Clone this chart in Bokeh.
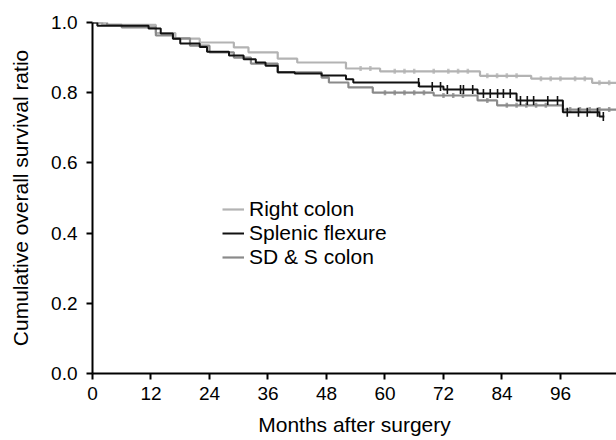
import math
from bokeh.plotting import figure
from bokeh.models import Range1d, FixedTicker, PrintfTickFormatter, Legend, LegendItem
from bokeh.embed import file_html
from bokeh.resources import INLINE

# ---- data (step points: time in months, survival after the step) ----
right_t = [0, 2, 13, 17, 22, 29, 32, 38, 42, 52, 59, 79.5, 90, 102.5, 107.5]
right_s = [1.0, 0.993, 0.97, 0.954, 0.943, 0.929, 0.915, 0.897, 0.886, 0.869, 0.861, 0.848, 0.84, 0.828, 0.828]

splenic_t = [0, 1, 11.5, 14, 16.5, 18, 22, 23.5, 28, 31, 33.5, 35.5, 38, 41.5, 47, 52, 53.5, 67, 72, 79, 87, 96.5, 104, 105]
splenic_s = [1.0, 0.991, 0.983, 0.969, 0.954, 0.94, 0.93, 0.917, 0.906, 0.895, 0.886, 0.877, 0.858, 0.855, 0.849, 0.838, 0.829, 0.818, 0.809, 0.798, 0.778, 0.744, 0.732, 0.732]

sds_t = [0, 3, 6, 13, 16.5, 20, 24, 29, 32.5, 38, 47, 48.5, 52.5, 57.5, 70, 79, 83, 96.5, 107.5]
sds_s = [1.0, 0.993, 0.986, 0.963, 0.955, 0.934, 0.915, 0.9, 0.883, 0.858, 0.843, 0.829, 0.815, 0.8, 0.792, 0.778, 0.764, 0.752, 0.752]

splenic_cens = [66.9, 69.7, 71.4, 72.8, 75.5, 76.1, 78, 80.2, 81.6, 83.1, 84.3, 85.7, 87.8, 89.2, 90.5, 93.4, 95.4, 97.4, 99.7, 101.5, 103.6, 104.8]
right_cens = [55, 57, 62, 64, 66, 70, 73, 75, 77, 81, 83, 85, 87, 92, 94, 96, 99, 101, 104, 106]
sds_cens = [60, 62, 64, 66, 68, 72, 74, 76, 81, 85, 87, 89, 91, 93, 98, 100, 102, 104, 106]

x_ticks = [0, 12, 24, 36, 48, 60, 72, 84, 96]
y_ticks = [0.0, 0.2, 0.4, 0.6, 0.8, 1.0]

series_names = ["Right colon", "Splenic flexure", "SD & S colon"]
colors = ["#b3b3b3", "#111111", "#8a8a8a"]


def surv_at(ts, ss, t):
    v = ss[0]
    for ti, si in zip(ts, ss):
        if ti <= t:
            v = si
    return v


FONT = "Liberation Sans"

p = figure(width=616, height=440, output_backend="svg", toolbar_location=None,
           x_range=Range1d(0, 107.5), y_range=Range1d(0, 1.0),
           min_border_left=92, min_border_right=0, min_border_top=22, min_border_bottom=67)
p.outline_line_color = None
p.xgrid.visible = False
p.ygrid.visible = False
p.background_fill_color = "white"
p.border_fill_color = "white"

for ax in (p.xaxis[0], p.yaxis[0]):
    ax.axis_line_width = 2
    ax.axis_line_color = "black"
    ax.major_tick_line_width = 2
    ax.major_tick_line_color = "black"
    ax.major_tick_out = 6
    ax.major_tick_in = 0
    ax.minor_tick_line_color = None
    ax.major_label_text_font = FONT
    ax.major_label_text_font_size = "19px"
    ax.major_label_text_color = "black"
    ax.axis_label_text_font = FONT
    ax.axis_label_text_font_size = "21px"
    ax.axis_label_text_font_style = "normal"
    ax.axis_label_text_color = "black"

p.xaxis.ticker = FixedTicker(ticks=x_ticks)
p.yaxis.ticker = FixedTicker(ticks=y_ticks)
p.yaxis.formatter = PrintfTickFormatter(format="%.1f")
p.xaxis.axis_label = "Months after surgery"
p.yaxis.axis_label = "Cumulative overall survival ratio"
p.xaxis.major_label_standoff = 7
p.yaxis.major_label_standoff = 9
p.xaxis.axis_label_standoff = 10
p.yaxis.axis_label_standoff = 16

all_t = [right_t, splenic_t, sds_t]
all_s = [right_s, splenic_s, sds_s]
all_c = [right_cens, splenic_cens, sds_cens]
widths = [2.2, 2.0, 2.2]
items = []
order = [0, 2, 1]
renderers = {}
for i in order:
    r = p.step(all_t[i], all_s[i], mode="after", line_color=colors[i], line_width=widths[i])
    renderers[i] = r
    cy = [surv_at(all_t[i], all_s[i], c) for c in all_c[i]]
    if i == 1:
        p.scatter(all_c[i], cy, marker="dash", angle=math.pi / 2, size=9,
                  line_color=colors[i], line_width=1.6)
    else:
        p.scatter(all_c[i], cy, marker="dash", angle=math.pi / 2, size=5,
                  line_color=colors[i], line_width=2.5, line_alpha=0.8)

for i in range(3):
    items.append(LegendItem(label=series_names[i], renderers=[renderers[i]]))

legend = Legend(items=items, location=(130, 104), orientation="vertical",
                padding=0, margin=0, spacing=-3, glyph_width=22, glyph_height=18,
                label_standoff=5, label_height=18,
                label_text_font=FONT, label_text_font_size="21px", label_text_color="black",
                border_line_color=None, background_fill_alpha=0)
p.add_layout(legend, "center")

open("out.html", "w").write(file_html(p, INLINE))
